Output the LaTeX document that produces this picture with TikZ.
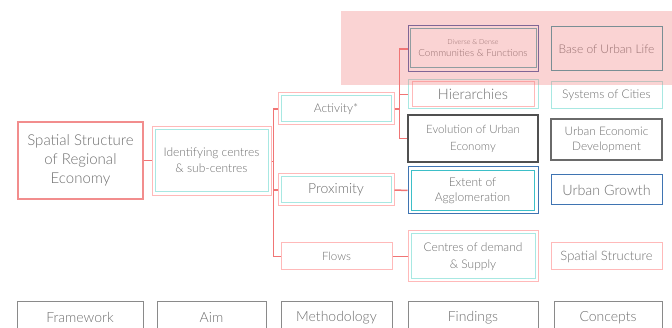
\documentclass[tikz,border=0pt]{standalone}
\usepackage{fontspec}
\setmainfont{Lato}[UprightFont={* Light}]
\usepackage{tikz}
\usetikzlibrary{positioning,calc}
\definecolor{pinkdeep}{HTML}{F28D8D}
\definecolor{pinklt}{HTML}{FFB9B9}
\definecolor{linkred}{HTML}{F07575}
\definecolor{teallt}{HTML}{A8E8E2}
\definecolor{tealmd}{HTML}{62B0B4}
\definecolor{tealbr}{HTML}{3DBFC8}
\definecolor{tealdk}{HTML}{4099A3}
\definecolor{bluedk}{HTML}{4A5EA6}
\definecolor{bluemd}{HTML}{3F74B2}
\definecolor{graydk}{HTML}{505050}
\definecolor{graymd}{HTML}{6A6A6A}
\definecolor{graylt}{HTML}{8A8A8A}
\definecolor{txtgray}{HTML}{6E6E6E}
\definecolor{hilite}{HTML}{F07878}
\newcommand\fs[2]{\fontsize{#1}{#2}\selectfont}

\begin{document}
\begin{tikzpicture}[
    x=1pt, y=-1pt,
    box/.style={draw=#1, line width=1pt, inner sep=0pt, text=txtgray, align=center},
    link/.style={draw=linkred, line width=1.5pt}
]
\useasboundingbox (0,0) rectangle (672,328);

% framework and aim
\node [box=pinkdeep, line width=2.2pt, minimum width=125, minimum height=77, font=\fs{15}{19}] (spatial) at (80.5,160.5) {Spatial Structure\\of Regional\\Economy};
\node [box=pinklt, minimum width=119, minimum height=69] (aimout) at (211.5,161.5) {};
\node [box=teallt, minimum width=113, minimum height=62, font=\fs{12}{16}] (aim) at (211.5,160.5) {Identifying centres\\\& sub-centres};

% methodology
\node [box=pinklt, minimum width=116, minimum height=32] (actout) at (336,109) {};
\node [box=teallt, minimum width=110, minimum height=26, font=\fs{12}{14}] (act) at (336,109) {Activity*};
\node [box=pinklt, minimum width=116, minimum height=32] (proxout) at (336,190) {};
\node [box=teallt, minimum width=110, minimum height=26, font=\fs{14}{16}] (prox) at (336,190) {Proximity};
\node [box=pinklt, minimum width=111, minimum height=27, font=\fs{11.5}{14}] (flows) at (336.5,256.5) {Flows};

% findings
\node [box=bluedk, minimum width=130, minimum height=46] (commout) at (473,49) {};
\node [box=tealmd, minimum width=126, minimum height=39, font=\fs{9.8}{12}] (comm) at (473,48.5) {{\fs{7}{9}Diverse \& Dense}\\Communities \& Functions};
\node [box=teallt, minimum width=130, minimum height=29] (hierout) at (473,94.5) {};
\node [box=pinklt, minimum width=122, minimum height=25, font=\fs{14.5}{16}] (hier) at (473,94.5) {Hierarchies};
\node [box=graydk, line width=1.2pt, minimum width=130, minimum height=47, font=\fs{11.5}{17}] (evol) at (473,138.5) {Evolution of Urban\\Economy};
\node [box=bluemd, minimum width=130, minimum height=47] (extout) at (473,190.5) {};
\node [box=tealbr, minimum width=123, minimum height=40, font=\fs{12}{15}] (ext) at (472.5,191) {Extent of\\Agglomeration};
\node [box=pinklt, minimum width=130, minimum height=51] (cdsout) at (473,256.5) {};
\node [box=teallt, minimum width=124, minimum height=45, font=\fs{12}{17}] (cds) at (473,256.5) {Centres of demand\\\& Supply};

% concepts
\node [box=tealdk, minimum width=111, minimum height=44, font=\fs{12}{14}] (base) at (606.5,49) {Base of Urban Life};
\node [box=teallt, minimum width=111, minimum height=27, font=\fs{12}{14}] (systems) at (606.5,95.5) {Systems of Cities};
\node [box=graymd, line width=1.2pt, minimum width=111, minimum height=41, font=\fs{11.8}{15}] (ued) at (606.5,139.5) {Urban Economic\\Development};
\node [box=bluemd, minimum width=111, minimum height=30, font=\fs{14.3}{16}] (growth) at (606.5,190) {Urban Growth};
\node [box=pinklt, minimum width=111, minimum height=27, font=\fs{13}{15}] (sstruct) at (606.5,256.5) {Spatial Structure};

% column headings
\node [box=graylt, minimum width=126, minimum height=32, font=\fs{14}{16}] (hframe) at (80,318) {\raisebox{1pt}{Framework}};
\node [box=graylt, minimum width=109, minimum height=32, font=\fs{14}{16}] (haim) at (211.5,318) {\raisebox{1pt}{Aim}};
\node [box=graylt, minimum width=111, minimum height=32, font=\fs{14}{16}] (hmeth) at (336.5,318) {\raisebox{1pt}{Methodology}};
\node [box=graylt, minimum width=130, minimum height=32, font=\fs{14}{16}] (hfind) at (473,318) {\raisebox{1pt}{Findings}};
\node [box=graylt, minimum width=108, minimum height=32, font=\fs{14}{16}] (hconc) at (608,318) {\raisebox{1pt}{Concepts}};

% connectors
\coordinate (spineA) at ([xshift=-4pt]actout.west);
\coordinate (spineB) at ([xshift=-8pt]commout.west);
\draw [link] (spatial.east) -- (spatial.east -| aimout.west);
\draw [link] (aimout.east) -- (aimout.east -| spineA);
\draw [link] (actout.west) -- (spineA) |- (flows.west);
\draw [link] (proxout.west) -- (proxout.west -| spineA);
\draw [link] (actout.east) -- (actout.east -| spineB);
\draw [link] (commout.west) -- (spineB) |- (evol.west);
\draw [link] (hierout.west) -- (hierout.west -| spineB);
\draw [link] (proxout.east) -- (extout.west);
\draw [link] (flows.east) -- (flows.east -| cdsout.west);

% highlight
\fill [hilite, fill opacity=0.33] (341,11) rectangle (672,85);
\end{tikzpicture}
\end{document}
